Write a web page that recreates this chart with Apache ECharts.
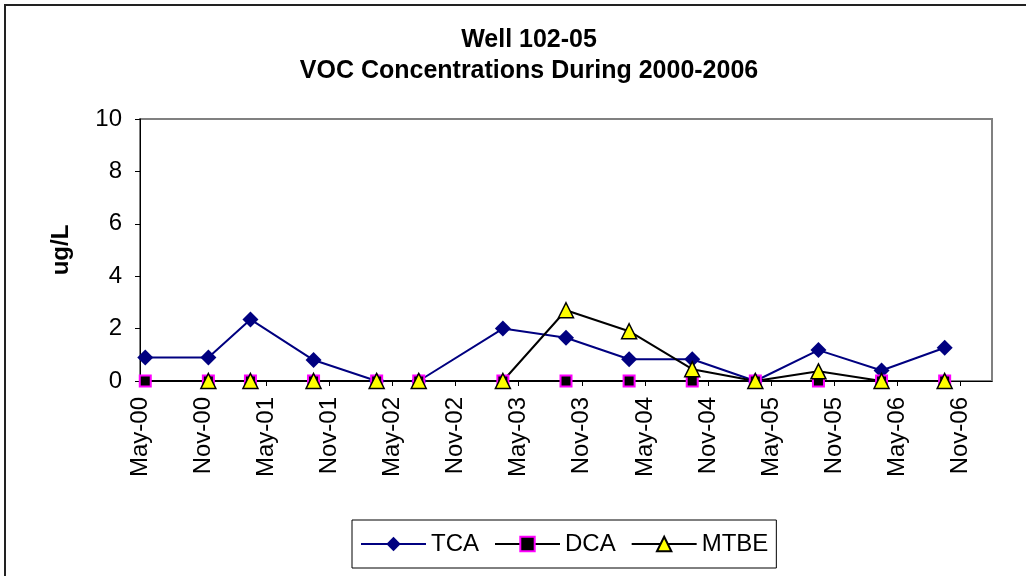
<!DOCTYPE html>
<html>
<head>
<meta charset="utf-8">
<title>Well 102-05 VOC</title>
<script src="https://cdn.jsdelivr.net/npm/echarts@6/dist/echarts.min.js"></script>
<style>
  html, body { margin: 0; padding: 0; background: #fff; }
  #chart { width: 1026px; height: 576px; }
</style>
</head>
<body>
<div id="chart"></div>
<script>
// sample dates (year-month) and concentrations, ug/L
var sampleDates = ['2000-05', '2000-11', '2001-03', '2001-09', '2002-03', '2002-07', '2003-03',
                   '2003-09', '2004-03', '2004-09', '2005-03', '2005-09', '2006-03', '2006-09'];
var tcaValues  = [0.9, 0.9, 2.35, 0.8, 0, 0, 2.0, 1.65, 0.83, 0.83, 0, 1.18, 0.4, 1.27];
var dcaValues  = [0, 0, 0, 0, 0, 0, 0, 0, 0, 0, 0, 0, 0, 0];
var mtbeValues = [null, 0, 0, 0, 0, 0, 0, 2.7, 1.9, 0.45, 0, 0.37, 0, 0];
var tickLabels = ['May-00', 'Nov-00', 'May-01', 'Nov-01', 'May-02', 'Nov-02', 'May-03',
                  'Nov-03', 'May-04', 'Nov-04', 'May-05', 'Nov-05', 'May-06', 'Nov-06'];

var font = 'Arial, "Liberation Sans", sans-serif';

// months since May 2000, point sits in the middle of its month
function monthPos(d) {
    var p = d.split('-');
    return (parseInt(p[0], 10) - 2000) * 12 + (parseInt(p[1], 10) - 5) + 0.5;
}
function pairs(vals) {
    var out = [];
    for (var i = 0; i < sampleDates.length; i++) {
        out.push([monthPos(sampleDates[i]), vals[i] == null ? '-' : vals[i]]);
    }
    return out;
}
var tickPos = [];
for (var i = 0; i < tickLabels.length; i++) tickPos.push(i * 6);

var myChart = echarts.init(document.getElementById('chart'));
var option = {
    animation: false,
    backgroundColor: '#fff',
    textStyle: { fontFamily: font },
    title: {
        text: 'Well 102-05\nVOC Concentrations During 2000-2006',
        left: 524,
        top: 20,
        textAlign: 'center',
        textStyle: {
            fontFamily: font,
            fontSize: 25,
            fontWeight: 'bold',
            color: '#000',
            lineHeight: 31
        }
    },
    graphic: [{
        type: 'rect',
        shape: { x: 5, y: 5, width: 1040, height: 600 },
        style: { fill: 'none', stroke: '#222', lineWidth: 2 },
        silent: true
    }],
    grid: {
        left: 140,
        right: 34,
        top: 119,
        bottom: 195,
        show: true,
        borderColor: '#808080',
        borderWidth: 2
    },
    legend: {
        left: 352,
        top: 520,
        padding: [12, 8],
        itemWidth: 65,
        itemHeight: 18,
        itemGap: 15,
        borderColor: '#000',
        borderWidth: 1,
        textStyle: { fontFamily: font, fontSize: 24, color: '#000' },
        data: ['TCA', 'DCA', 'MTBE']
    },
    xAxis: {
        type: 'value',
        min: 0,
        max: 81,
        interval: 6,
        axisLine: { lineStyle: { color: '#000', width: 1 } },
        axisTick: { show: true, length: 5, lineStyle: { color: '#000' }, customValues: tickPos },
        axisLabel: {
            rotate: 90,
            margin: 16,
            fontSize: 24,
            color: '#000',
            fontFamily: font,
            customValues: tickPos,
            formatter: function (v) {
                var k = Math.round(v / 6);
                return tickLabels[k] || '';
            }
        },
        splitLine: { show: false }
    },
    yAxis: {
        type: 'value',
        min: 0,
        max: 10,
        interval: 2,
        name: 'ug/L',
        nameLocation: 'middle',
        nameGap: 67,
        nameTextStyle: { fontFamily: font, fontSize: 24, fontWeight: 'bold', color: '#000' },
        axisLine: { show: true, lineStyle: { color: '#000', width: 1 } },
        axisTick: { show: true, length: 5, lineStyle: { color: '#000' } },
        axisLabel: { margin: 18, fontSize: 24, color: '#000', fontFamily: font },
        splitLine: { show: false }
    },
    series: [
        {
            name: 'TCA',
            type: 'line',
            data: pairs(tcaValues),
            symbol: 'diamond',
            symbolSize: 16,
            lineStyle: { color: '#000080', width: 2 },
            itemStyle: { color: '#000080', borderWidth: 0 }
        },
        {
            name: 'DCA',
            type: 'line',
            data: pairs(dcaValues),
            symbol: 'rect',
            symbolSize: 11,
            lineStyle: { color: '#000', width: 2 },
            itemStyle: { color: '#000', borderColor: '#ff00ff', borderWidth: 2 }
        },
        {
            name: 'MTBE',
            type: 'line',
            data: pairs(mtbeValues),
            symbol: 'triangle',
            symbolSize: 15,
            lineStyle: { color: '#000', width: 2 },
            itemStyle: { color: '#ffff00', borderColor: '#000', borderWidth: 1.5 }
        }
    ]
};
myChart.setOption(option);
</script>
</body>
</html>
